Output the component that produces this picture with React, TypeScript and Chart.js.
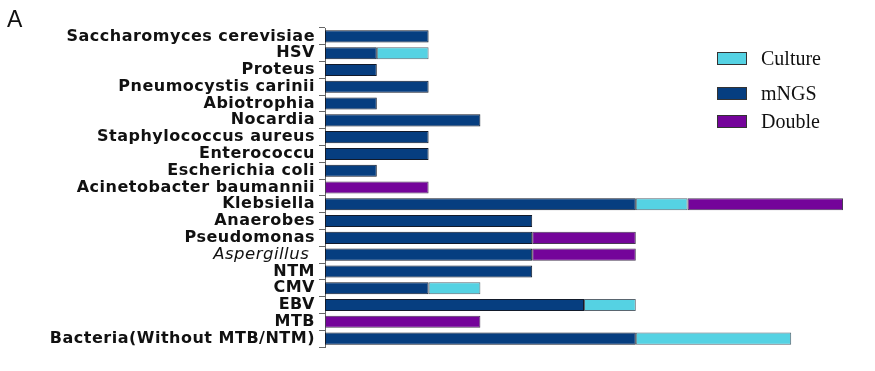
import React, { useEffect, useRef } from "react";
import { Chart, registerables } from "chart.js";

Chart.register(...registerables);

const categories = [
  "Saccharomyces cerevisiae",
  "HSV",
  "Proteus",
  "Pneumocystis carinii",
  "Abiotrophia",
  "Nocardia",
  "Staphylococcus aureus",
  "Enterococcu",
  "Escherichia coli",
  "Acinetobacter baumannii",
  "Klebsiella",
  "Anaerobes",
  "Pseudomonas",
  "Aspergillus ",
  "NTM",
  "CMV",
  "EBV",
  "MTB",
  "Bacteria(Without MTB/NTM)",
];
const mngsValues = [2, 1, 1, 2, 1, 3, 2, 2, 1, 0, 6, 4, 4, 4, 4, 2, 5, 0, 6];
const cultureValues = [0, 1, 0, 0, 0, 0, 0, 0, 0, 0, 1, 0, 0, 0, 0, 1, 1, 0, 3];
const doubleValues = [0, 0, 0, 0, 0, 0, 0, 0, 0, 2, 3, 0, 2, 2, 0, 0, 0, 3, 0];
const italicCategory = "Aspergillus ";

const legendItems = [
  { label: "Culture", color: "#55d2e3", top: 52 },
  { label: "mNGS", color: "#063e80", top: 87 },
  { label: "Double", color: "#74049a", top: 115 },
];

const COLORS = { mngs: "#063e80", culture: "#55d2e3", double: "#74049a" };

const nz = (a: number[]) => a.map((v) => (v === 0 ? null : v));

export default function App() {
  const ref = useRef<HTMLCanvasElement | null>(null);

  useEffect(() => {
    if (!ref.current) return;
    const spacingPlugin = {
      id: "spacing",
      beforeDraw(chart: any) {
        (chart.ctx as any).letterSpacing = "0.5px";
      },
      afterDraw(chart: any) {
        (chart.ctx as any).letterSpacing = "0px";
      },
    };
    const chart = new Chart(ref.current, {
      type: "bar",
      data: {
        labels: categories,
        datasets: [
          {
            label: "mNGS",
            data: nz(mngsValues) as any,
            backgroundColor: COLORS.mngs,
            borderColor: "#121a2a",
            borderWidth: 1,
            borderSkipped: false,
          },
          {
            label: "Culture",
            data: nz(cultureValues) as any,
            backgroundColor: COLORS.culture,
            borderColor: "#5a6670",
            borderWidth: 1,
            borderSkipped: false,
          },
          {
            label: "Double",
            data: nz(doubleValues) as any,
            backgroundColor: COLORS.double,
            borderColor: "#4a3a55",
            borderWidth: 1,
            borderSkipped: false,
          },
        ],
      },
      options: {
        indexAxis: "y",
        animation: false,
        responsive: false,
        maintainAspectRatio: false,
        datasets: {
          bar: { categoryPercentage: 1, barPercentage: 0.72 },
        },
        layout: { padding: { top: 28, bottom: 24, right: 32, left: 0 } },
        plugins: { legend: { display: false }, tooltip: { enabled: false } },
        scales: {
          x: {
            stacked: true,
            min: 0,
            max: 10,
            display: false,
          },
          y: {
            stacked: true,
            afterFit: (scale: any) => {
              scale.width = 325;
            },
            border: { display: true, color: "#666", width: 1 },
            grid: {
              drawOnChartArea: false,
              drawTicks: true,
              tickLength: 6,
              color: "#666",
            },
            ticks: {
              color: "#111",
              padding: 4,
              autoSkip: false,
              font: (ctx: any) =>
                categories[ctx.index] === italicCategory
                  ? { family: "'DejaVu Sans', sans-serif", size: 16.5, style: "italic", weight: "normal" }
                  : { family: "'DejaVu Sans', sans-serif", size: 16, weight: "bold" },
            },
          },
        },
      },
      plugins: [spacingPlugin],
    });
    return () => chart.destroy();
  }, []);

  return (
    <div style={{ position: "fixed", left: 0, top: 0, width: 875, height: 371, background: "#fff" }}>
      <canvas ref={ref} width={875} height={371} style={{ position: "absolute", left: 0, top: 0 }} />
      <div
        style={{
          position: "absolute",
          left: 7,
          top: 6,
          fontFamily: "'Liberation Sans', Arial, sans-serif",
          fontSize: 23,
          lineHeight: "26px",
          color: "#111",
        }}
      >
        A
      </div>
      {legendItems.map((it) => (
        <div key={it.label} style={{ position: "absolute", left: 717, top: it.top, height: 13 }}>
          <div
            style={{
              position: "absolute",
              left: 0,
              top: 0,
              width: 28,
              height: 11,
              background: it.color,
              border: "1px solid #333",
            }}
          />
          <div
            style={{
              position: "absolute",
              left: 44,
              top: -7,
              fontFamily: "'Liberation Serif', 'Times New Roman', serif",
              fontSize: 20,
              lineHeight: "26px",
              color: "#111",
              whiteSpace: "nowrap",
            }}
          >
            {it.label}
          </div>
        </div>
      ))}
    </div>
  );
}
